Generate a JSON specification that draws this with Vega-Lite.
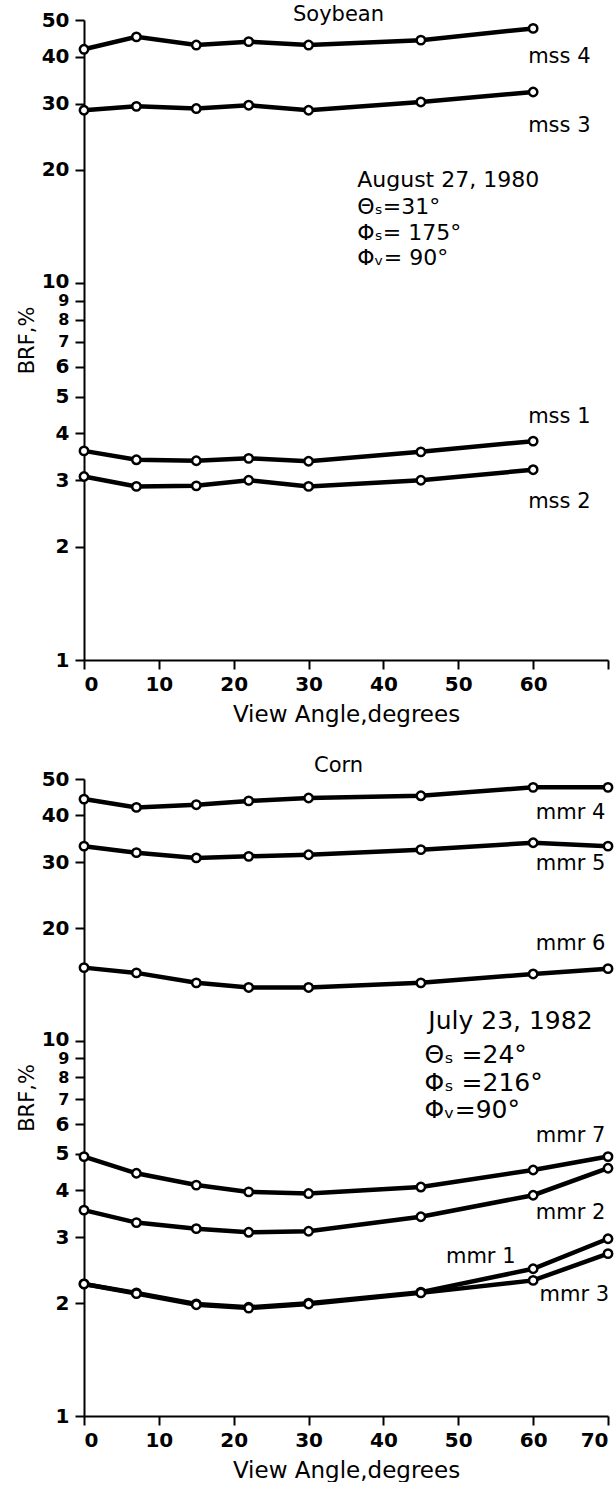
{
  "$schema": "https://vega.github.io/schema/vega-lite/v6.json",
  "background": "white",
  "padding": {"left": 16, "top": 4, "right": 0, "bottom": 0},
  "spacing": 28,
  "config": {
    "view": {"stroke": null},
    "font": "DejaVu Sans",
    "axis": {"grid": false, "domainColor": "black", "domainWidth": 2, "tickColor": "black", "tickWidth": 2, "tickSize": 9, "labelFont": "DejaVu Sans", "labelFontWeight": "bold", "labelFontSize": 20, "labelColor": "black", "labelOverlap": false, "titleFont": "DejaVu Sans", "titleFontWeight": "normal", "titleFontSize": 23, "titleColor": "black"},
    "axisX": {"labelPadding": 5, "titlePadding": 9},
    "axisY": {"labelPadding": 6, "titlePadding": 3, "minExtent": 44, "maxExtent": 44, "titleFontSize": 21}
  },
  "datasets": {
    "soy": [
      {"band": "mss 4", "angle": 0, "brf": 41.8}, {"band": "mss 4", "angle": 7, "brf": 45.1}, {"band": "mss 4", "angle": 15, "brf": 42.9}, {"band": "mss 4", "angle": 22, "brf": 43.8}, {"band": "mss 4", "angle": 30, "brf": 42.9}, {"band": "mss 4", "angle": 45, "brf": 44.2}, {"band": "mss 4", "angle": 60, "brf": 47.5},
      {"band": "mss 3", "angle": 0, "brf": 28.8}, {"band": "mss 3", "angle": 7, "brf": 29.5}, {"band": "mss 3", "angle": 15, "brf": 29.1}, {"band": "mss 3", "angle": 22, "brf": 29.7}, {"band": "mss 3", "angle": 30, "brf": 28.8}, {"band": "mss 3", "angle": 45, "brf": 30.3}, {"band": "mss 3", "angle": 60, "brf": 32.2},
      {"band": "mss 1", "angle": 0, "brf": 3.59}, {"band": "mss 1", "angle": 7, "brf": 3.40}, {"band": "mss 1", "angle": 15, "brf": 3.38}, {"band": "mss 1", "angle": 22, "brf": 3.43}, {"band": "mss 1", "angle": 30, "brf": 3.37}, {"band": "mss 1", "angle": 45, "brf": 3.57}, {"band": "mss 1", "angle": 60, "brf": 3.81},
      {"band": "mss 2", "angle": 0, "brf": 3.07}, {"band": "mss 2", "angle": 7, "brf": 2.89}, {"band": "mss 2", "angle": 15, "brf": 2.90}, {"band": "mss 2", "angle": 22, "brf": 3.0}, {"band": "mss 2", "angle": 30, "brf": 2.89}, {"band": "mss 2", "angle": 45, "brf": 3.0}, {"band": "mss 2", "angle": 60, "brf": 3.20}
    ],
    "corn": [
      {"band": "mmr 4", "angle": 0, "brf": 44.2}, {"band": "mmr 4", "angle": 7, "brf": 42.0}, {"band": "mmr 4", "angle": 15, "brf": 42.7}, {"band": "mmr 4", "angle": 22, "brf": 43.7}, {"band": "mmr 4", "angle": 30, "brf": 44.5}, {"band": "mmr 4", "angle": 45, "brf": 45.1}, {"band": "mmr 4", "angle": 60, "brf": 47.5}, {"band": "mmr 4", "angle": 70, "brf": 47.5},
      {"band": "mmr 5", "angle": 0, "brf": 33.1}, {"band": "mmr 5", "angle": 7, "brf": 31.8}, {"band": "mmr 5", "angle": 15, "brf": 30.8}, {"band": "mmr 5", "angle": 22, "brf": 31.1}, {"band": "mmr 5", "angle": 30, "brf": 31.4}, {"band": "mmr 5", "angle": 45, "brf": 32.4}, {"band": "mmr 5", "angle": 60, "brf": 33.8}, {"band": "mmr 5", "angle": 70, "brf": 33.1},
      {"band": "mmr 6", "angle": 0, "brf": 15.7}, {"band": "mmr 6", "angle": 7, "brf": 15.2}, {"band": "mmr 6", "angle": 15, "brf": 14.3}, {"band": "mmr 6", "angle": 22, "brf": 13.9}, {"band": "mmr 6", "angle": 30, "brf": 13.9}, {"band": "mmr 6", "angle": 45, "brf": 14.3}, {"band": "mmr 6", "angle": 60, "brf": 15.1}, {"band": "mmr 6", "angle": 70, "brf": 15.6},
      {"band": "mmr 7", "angle": 0, "brf": 4.92}, {"band": "mmr 7", "angle": 7, "brf": 4.44}, {"band": "mmr 7", "angle": 15, "brf": 4.13}, {"band": "mmr 7", "angle": 22, "brf": 3.96}, {"band": "mmr 7", "angle": 30, "brf": 3.92}, {"band": "mmr 7", "angle": 45, "brf": 4.08}, {"band": "mmr 7", "angle": 60, "brf": 4.53}, {"band": "mmr 7", "angle": 70, "brf": 4.92},
      {"band": "mmr 2", "angle": 0, "brf": 3.54}, {"band": "mmr 2", "angle": 7, "brf": 3.28}, {"band": "mmr 2", "angle": 15, "brf": 3.16}, {"band": "mmr 2", "angle": 22, "brf": 3.09}, {"band": "mmr 2", "angle": 30, "brf": 3.11}, {"band": "mmr 2", "angle": 45, "brf": 3.40}, {"band": "mmr 2", "angle": 60, "brf": 3.88}, {"band": "mmr 2", "angle": 70, "brf": 4.58},
      {"band": "mmr 1", "angle": 0, "brf": 2.25}, {"band": "mmr 1", "angle": 7, "brf": 2.13}, {"band": "mmr 1", "angle": 15, "brf": 1.99}, {"band": "mmr 1", "angle": 22, "brf": 1.95}, {"band": "mmr 1", "angle": 30, "brf": 2.0}, {"band": "mmr 1", "angle": 45, "brf": 2.14}, {"band": "mmr 1", "angle": 60, "brf": 2.47}, {"band": "mmr 1", "angle": 70, "brf": 2.97},
      {"band": "mmr 3", "angle": 0, "brf": 2.25}, {"band": "mmr 3", "angle": 7, "brf": 2.12}, {"band": "mmr 3", "angle": 15, "brf": 1.98}, {"band": "mmr 3", "angle": 22, "brf": 1.94}, {"band": "mmr 3", "angle": 30, "brf": 1.99}, {"band": "mmr 3", "angle": 45, "brf": 2.13}, {"band": "mmr 3", "angle": 60, "brf": 2.30}, {"band": "mmr 3", "angle": 70, "brf": 2.71}
    ],
    "soyBands": [
      {"label": "mss 4", "angle": 63.5, "brf": 40}, {"label": "mss 3", "angle": 63.5, "brf": 26.2}, {"label": "mss 1", "angle": 63.5, "brf": 4.43}, {"label": "mss 2", "angle": 63.5, "brf": 2.63}
    ],
    "soyNotes": [
      {"label": "August 27, 1980", "angle": 36.5, "brf": 18.8}, {"label": "Θₛ=31°", "angle": 36.5, "brf": 15.9}, {"label": "Φₛ= 175°", "angle": 36.5, "brf": 13.6}, {"label": "Φᵥ= 90°", "angle": 36.5, "brf": 11.7}
    ],
    "soyTitle": [{"label": "Soybean", "angle": 34, "brf": 51.5}],
    "cornBands": [
      {"label": "mmr 4", "angle": 65, "brf": 40.5}, {"label": "mmr 5", "angle": 65, "brf": 29.7}, {"label": "mmr 6", "angle": 65, "brf": 18.2}, {"label": "mmr 7", "angle": 65, "brf": 5.57}, {"label": "mmr 2", "angle": 65, "brf": 3.47}, {"label": "mmr 1", "angle": 53, "brf": 2.65}, {"label": "mmr 3", "angle": 65.5, "brf": 2.10}
    ],
    "cornNotes": [
      {"label": "July 23, 1982", "angle": 46, "brf": 11.3}, {"label": "Θₛ =24°", "angle": 45.5, "brf": 9.2}, {"label": "Φₛ =216°", "angle": 45.5, "brf": 7.73}, {"label": "Φᵥ=90°", "angle": 45.5, "brf": 6.56}
    ],
    "cornTitle": [{"label": "Corn", "angle": 34, "brf": 54.2}]
  },
  "vconcat": [
    {
      "width": 524,
      "height": 640,
      "encoding": {
        "x": {"field": "angle", "type": "quantitative", "scale": {"domain": [0, 70], "nice": false}, "axis": {"values": [0, 10, 20, 30, 40, 50, 60, 70], "title": "View Angle,degrees", "labelExpr": "datum.value == 70 ? '' : datum.label"}},
        "y": {"field": "brf", "type": "quantitative", "scale": {"type": "log", "domain": [1, 50], "nice": false}, "axis": {"values": [1, 2, 3, 4, 5, 6, 7, 8, 9, 10, 20, 30, 40, 50], "format": "d", "title": "BRF,%", "labelFontSize": {"condition": {"test": "datum.value >= 7 && datum.value <= 9", "value": 16}, "value": 20}, "labelOffset": {"condition": {"test": "datum.value == 10", "value": -2}, "value": 0}}}
      },
      "layer": [
        {"data": {"name": "soy"}, "mark": {"type": "line", "color": "black", "strokeWidth": 4.5}, "encoding": {"detail": {"field": "band"}}},
        {"data": {"name": "soy"}, "mark": {"type": "point", "shape": "circle", "filled": true, "fill": "white", "stroke": "black", "strokeWidth": 2.5, "size": 70, "opacity": 1}},
        {"data": {"name": "soyBands"}, "mark": {"type": "text", "align": "center", "baseline": "middle", "fontSize": 21, "color": "black"}, "encoding": {"text": {"field": "label"}}},
        {"data": {"name": "soyNotes"}, "mark": {"type": "text", "align": "left", "baseline": "middle", "fontSize": 22, "color": "black"}, "encoding": {"text": {"field": "label"}}},
        {"data": {"name": "soyTitle"}, "mark": {"type": "text", "align": "center", "baseline": "middle", "fontSize": 21, "color": "black"}, "encoding": {"text": {"field": "label"}}}
      ]
    },
    {
      "width": 524,
      "height": 637,
      "encoding": {
        "x": {"field": "angle", "type": "quantitative", "scale": {"domain": [0, 70], "nice": false}, "axis": {"values": [0, 10, 20, 30, 40, 50, 60, 70], "title": "View Angle,degrees"}},
        "y": {"field": "brf", "type": "quantitative", "scale": {"type": "log", "domain": [1, 50], "nice": false}, "axis": {"values": [1, 2, 3, 4, 5, 6, 7, 8, 9, 10, 20, 30, 40, 50], "format": "d", "title": "BRF,%", "labelFontSize": {"condition": {"test": "datum.value >= 7 && datum.value <= 9", "value": 16}, "value": 20}, "labelOffset": {"condition": {"test": "datum.value == 10", "value": -2}, "value": 0}}}
      },
      "layer": [
        {"data": {"name": "corn"}, "mark": {"type": "line", "color": "black", "strokeWidth": 4.5}, "encoding": {"detail": {"field": "band"}}},
        {"data": {"name": "corn"}, "mark": {"type": "point", "shape": "circle", "filled": true, "fill": "white", "stroke": "black", "strokeWidth": 2.5, "size": 70, "opacity": 1}},
        {"data": {"name": "cornBands"}, "mark": {"type": "text", "align": "center", "baseline": "middle", "fontSize": 21, "color": "black"}, "encoding": {"text": {"field": "label"}}},
        {"data": {"name": "cornNotes"}, "mark": {"type": "text", "align": "left", "baseline": "middle", "fontSize": 25, "color": "black"}, "encoding": {"text": {"field": "label"}}},
        {"data": {"name": "cornTitle"}, "mark": {"type": "text", "align": "center", "baseline": "middle", "fontSize": 21, "color": "black"}, "encoding": {"text": {"field": "label"}}}
      ]
    }
  ]
}
